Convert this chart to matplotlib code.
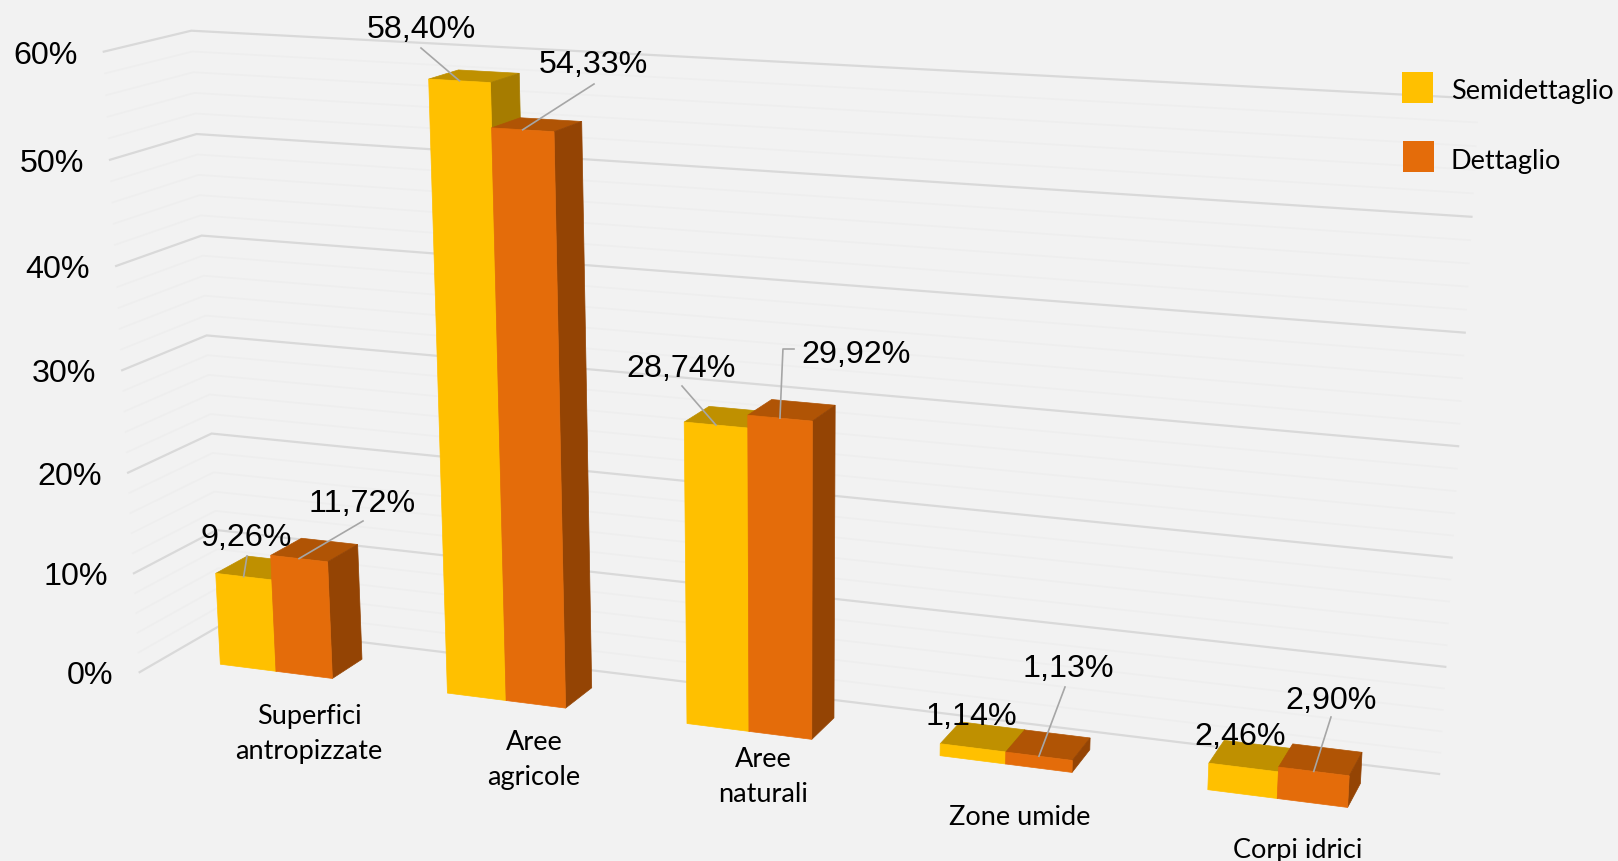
import numpy as np
import matplotlib
matplotlib.use("Agg")
import matplotlib.pyplot as plt
from matplotlib.patches import Polygon, Rectangle

# ============================
# Data
# ============================
categories = ["Superfici\nantropizzate", "Aree\nagricole", "Aree\nnaturali", "Zone umide", "Corpi idrici"]
series_names = ["Semidettaglio", "Dettaglio"]
semidettaglio = [9.26, 58.40, 28.74, 1.14, 2.46]
dettaglio = [11.72, 54.33, 29.92, 1.13, 2.90]
major_ticks = [0, 10, 20, 30, 40, 50, 60]

# ============================
# Style / layout
# ============================
BG = "#F2F2F2"
FRONT = ["#FFC000", "#E46C0A"]
TOP = ["#BF9000", "#B05405"]
SIDE = ["#A67C00", "#944404"]
GRID = "#D9D9D9"
MINOR = "#EEEEEE"
LEADER = "#A6A6A6"
NUM_FONT = "Liberation Sans"
TXT_FONT = "Lato"

# camera of the 3D chart: (category, percent, depth) -> pixel
CAMERA = np.array([
    [216.87794, -0.687655, 35.957942, 275.981414],
    [10.873848, -10.377378, -7.206556, 672.306142],
    [-0.026172, -0.00087, 0.018057, 1.0],
])
BAR_W = 0.25
X_LEFT, X_RIGHT = -0.5, 4.5
Z_FRONT, Z_BACK = -0.78, 1.77

# label placement, pixels: one (x, y) per category and series
cat_label_xy = [(309, 734), (534, 760), (763, 777), (1020, 818), (1298, 851)]
value_label_xy = [
    [(246, 538), (421, 30), (681, 369), (971, 717), (1240, 737)],
    [(362, 504), (593, 65), (856, 355), (1068, 669), (1331, 701)],
]
# where each leader line leaves its label (None: no visible line)
leader_start = [
    [(247, 557), (421, 49), (682, 387), None, None],
    [(363, 522), (594, 85), (794, 350), (1065, 688), (1331, 718)],
]


def project(x, v, z):
    h = CAMERA @ np.array([x, v, z, 1.0])
    return h[0] / h[2], h[1] / h[2]


def draw_grid(ax):
    for v in np.arange(0, 61, 2):
        is_major = v in major_ticks
        line = [project(X_LEFT, v, Z_FRONT), project(X_LEFT, v, Z_BACK), project(X_RIGHT, v, Z_BACK)]
        xs, ys = zip(*line)
        ax.plot(xs, ys, color=GRID if is_major else MINOR, lw=1.6 if is_major else 1.2,
                solid_joinstyle="miter", zorder=1)
    for v in major_ticks:
        fx, fy = project(X_LEFT, v, Z_FRONT)
        ax.text(fx - 26, fy + 3, f"{v}%", ha="right", va="center", fontsize=23.2,
                family=NUM_FONT, color="#000000")


def draw_bar(ax, x0, x1, v, s):
    corners = {
        "front": [(x0, 0, 0), (x1, 0, 0), (x1, v, 0), (x0, v, 0)],
        "side": [(x1, 0, 0), (x1, 0, 1), (x1, v, 1), (x1, v, 0)],
        "top": [(x0, v, 0), (x1, v, 0), (x1, v, 1), (x0, v, 1)],
    }
    colors = {"front": FRONT[s], "side": SIDE[s], "top": TOP[s]}
    for face in ["top", "side", "front"]:
        poly = [project(*c) for c in corners[face]]
        ax.add_patch(Polygon(poly, closed=True, facecolor=colors[face], edgecolor=colors[face],
                             lw=0.5, zorder=3))


def draw_labels(ax, values):
    for s, vals in enumerate(values):
        for i, v in enumerate(vals):
            cx = i - BAR_W / 2 if s == 0 else i + BAR_W / 2
            start = leader_start[s][i]
            if start is not None:
                ex, ey = project(cx, v, 0)
                xs, ys = [start[0], ex], [start[1], ey]
                if i == 2 and s == 1:
                    # the elbow on the 29,92% leader
                    xs = [start[0], ex + 3, ex]
                    ys = [start[1], start[1], ey]
                ax.plot(xs, ys, color=LEADER, lw=1.2, zorder=4)
            lx, ly = value_label_xy[s][i]
            ax.text(lx, ly, f"{v:.2f}%".replace(".", ","), ha="center", va="center",
                    fontsize=23.2, family=NUM_FONT, color="#000000", zorder=5)


def draw_legend(ax):
    spots = [(1402, 73, 1451, 92), (1403, 142, 1451, 162)]
    for s, (bx, by, tx, ty) in enumerate(spots):
        ax.add_patch(Rectangle((bx, by), 31, 31, facecolor=FRONT[s], edgecolor="none", zorder=3))
        ax.text(tx, ty, series_names[s], ha="left", va="center", fontsize=19.5,
                family=TXT_FONT, color="#000000", zorder=5)


# ============================
# MAIN
# ============================
if __name__ == "__main__":
    fig = plt.figure(figsize=(16.18, 8.62), dpi=100, facecolor=BG)
    ax = fig.add_axes([0, 0, 1, 1])
    ax.set_xlim(0, 1618)
    ax.set_ylim(862, 0)
    ax.axis("off")

    draw_grid(ax)

    for i in range(len(categories)):
        draw_bar(ax, i - BAR_W, i, semidettaglio[i], 0)
        draw_bar(ax, i, i + BAR_W, dettaglio[i], 1)
        lx, ly = cat_label_xy[i]
        ax.text(lx, ly, categories[i], ha="center", va="center", fontsize=19.5,
                family=TXT_FONT, color="#000000", linespacing=1.46, zorder=5)

    draw_labels(ax, [semidettaglio, dettaglio])
    draw_legend(ax)

    fig.savefig("out.png", dpi=100, facecolor=BG)
